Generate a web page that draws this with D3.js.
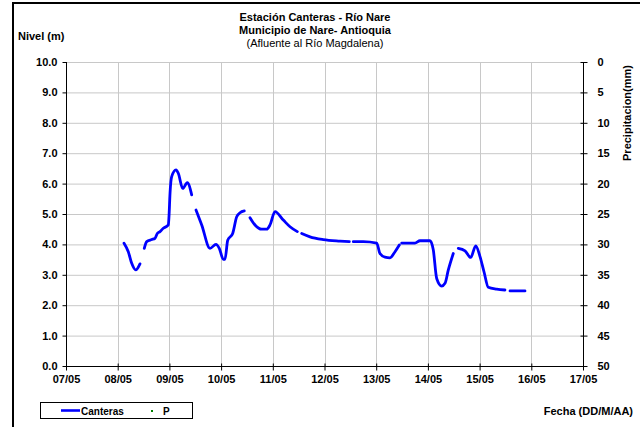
<!DOCTYPE html>
<html><head><meta charset="utf-8">
<script src="https://cdn.jsdelivr.net/npm/d3@7"></script>
<style>body{margin:0;background:#fff}svg{display:block}text{font-family:"Liberation Sans",Arial,sans-serif}</style>
</head><body><svg id="c" width="640" height="427"></svg>
<script>
// Day of May (fractional) and level (m); null = gap in record
const days = [8.122,8.205,8.271,8.348,8.431,null,
  8.514,8.561,8.658,8.721,8.766,8.818,8.882,8.979,8.992,9.012,9.044,9.128,9.172,9.257,9.346,9.431,null,
  9.515,9.625,9.785,9.901,9.965,10.043,10.075,10.128,10.224,10.302,10.366,10.449,null,
  10.559,10.656,10.785,10.882,10.946,11.043,11.203,11.333,11.474,null,
  11.559,11.720,11.977,12.300,12.480,null,
  12.557,12.750,13.010,13.073,13.170,13.267,13.364,13.447,null,
  13.493,13.590,13.750,13.847,14.041,14.104,14.170,14.267,14.331,14.395,14.491,null,
  14.588,14.718,14.828,14.925,15.008,15.085,15.168,15.331,15.491,null,
  15.588,15.878];
const canteras = [4.04,3.76,3.38,3.16,3.36,null,
  3.87,4.09,4.16,4.20,4.36,4.42,4.53,4.64,4.91,5.68,6.23,6.45,6.34,5.84,6.03,5.63,null,
  5.13,4.64,3.87,4.00,3.87,3.51,3.51,4.14,4.36,4.91,5.04,5.10,null,
  4.88,4.64,4.50,4.50,4.64,5.08,4.80,4.58,4.42,null,
  4.36,4.25,4.16,4.11,4.09,null,
  4.09,4.09,4.04,3.70,3.58,3.56,3.76,3.98,null,
  4.04,4.04,4.04,4.12,4.12,3.82,2.88,2.63,2.72,3.16,3.70,null,
  3.87,3.79,3.57,3.95,3.60,3.10,2.59,2.53,2.50,null,
  2.47,2.47];
const precipitation = []; // serie P (sin datos visibles)
const xTickDays = [7,8,9,10,11,12,13,14,15,16,17];
const xTickLabels = ["07/05","08/05","09/05","10/05","11/05","12/05","13/05","14/05","15/05","16/05","17/05"];
const yTicks = [0,1,2,3,4,5,6,7,8,9,10];
const y2Ticks = [0,5,10,15,20,25,30,35,40,45,50];
const titleLines = ["Estación Canteras - Río Nare","Municipio de Nare- Antioquia","(Afluente al Río Magdalena)"];

const svg = d3.select("#c");
const L=66,R=583,T=62,B=366;
const x = d3.scaleLinear().domain([7,17]).range([L,R]);
const y = d3.scaleLinear().domain([0,10]).range([B,T]);
const y2 = d3.scaleLinear().domain([0,50]).range([T,B]);

// outer border
svg.append("rect").attr("x",13).attr("y",3).attr("width",640).attr("height",440)
  .attr("fill","none").attr("stroke","#000").attr("stroke-width",2);

// grid
const g = svg.append("g");
g.selectAll(".hg").data(yTicks.slice(1)).join("line")
  .attr("x1",L).attr("x2",R).attr("y1",d=>y(d)+0.5).attr("y2",d=>y(d)+0.5)
  .attr("stroke","#c8c8c8").attr("stroke-width",1);
g.selectAll(".vg").data(xTickDays.slice(1,-1)).join("line")
  .attr("y1",T).attr("y2",B).attr("x1",d=>Math.round(x(d))+0.5).attr("x2",d=>Math.round(x(d))+0.5)
  .attr("stroke","#c8c8c8").attr("stroke-width",1);

// axes
const fmt = d3.format(".1f");
const ay = svg.append("g").attr("transform",`translate(${L+0.5},0)`)
  .call(d3.axisLeft(y).tickValues(yTicks).tickSize(4).tickPadding(5).tickFormat(fmt));
const ay2 = svg.append("g").attr("transform",`translate(${R+0.5},0)`)
  .call(d3.axisRight(y2).tickValues(y2Ticks).tickSize(4).tickPadding(10));
ay2.selectAll(".tick line").attr("x1",-3);
const ax = svg.append("g").attr("transform",`translate(0,${B+0.5})`)
  .call(d3.axisBottom(x).tickValues(xTickDays).tickSize(4).tickPadding(5).tickFormat((d,i)=>xTickLabels[i]));
ax.selectAll(".tick line").attr("y1",-3);
[ay,ay2,ax].forEach(a=>{
  a.select(".domain").attr("stroke","#000").attr("stroke-width",1);
  a.selectAll(".tick line").attr("stroke","#000");
  a.selectAll("text").attr("font-size",11).attr("font-weight","bold").attr("fill","#000")
   .attr("font-family",'"Liberation Sans",Arial,sans-serif');
});
ay.select(".domain").attr("d",`M0,${T}V${B}`);
ay2.select(".domain").attr("d",`M0,${T}V${B}`);
ax.select(".domain").attr("d",`M${L},0H${R}`);

// data line
const pts = days.map((d,i)=>({d:d,v:canteras[i]}));
const line = d3.line().defined(p=>p.d!==null&&p.v!==null).x(p=>x(p.d)).y(p=>y(p.v)).curve(d3.curveMonotoneX);
svg.append("path").datum(pts).attr("d",line).attr("fill","none")
  .attr("stroke","#0000ff").attr("stroke-width",2.8).attr("stroke-linejoin","round").attr("stroke-linecap","round");
svg.selectAll(".p").data(precipitation).join("rect")
  .attr("x",p=>x(p[0])-1).attr("y",p=>y2(p[1])-1).attr("width",2).attr("height",2).attr("fill","#008000");

// titles
svg.selectAll(".tt").data(titleLines).join("text")
  .attr("x",315).attr("y",(d,i)=>21+i*13).attr("text-anchor","middle")
  .attr("font-size",11).attr("font-weight",(d,i)=>i<2?"bold":"normal").text(d=>d);
svg.append("text").attr("x",18).attr("y",40).attr("font-size",11).attr("font-weight","bold").text("Nivel (m)");
svg.append("text").attr("transform","translate(631,113) rotate(-90)").attr("text-anchor","middle")
  .attr("font-size",11).attr("font-weight","bold").text("Precipitacion(mm)");
svg.append("text").attr("x",633).attr("y",415).attr("text-anchor","end")
  .attr("font-size",11).attr("font-weight","bold").text("Fecha (DD/M/AA)");

// legend
const lg = svg.append("g");
lg.append("rect").attr("x",40.5).attr("y",402.5).attr("width",152).attr("height",16)
  .attr("fill","#fff").attr("stroke","#000").attr("stroke-width",1);
lg.append("line").attr("x1",61).attr("x2",80).attr("y1",410.5).attr("y2",410.5)
  .attr("stroke","#0000ff").attr("stroke-width",2.6);
lg.append("text").attr("x",81).attr("y",414.5).attr("font-size",10).attr("font-weight","bold").text("Canteras");
lg.append("rect").attr("x",151).attr("y",410).attr("width",2).attr("height",2).attr("fill","#008000");
lg.append("text").attr("x",163).attr("y",414.5).attr("font-size",10).attr("font-weight","bold").text("P");
</script></body></html>
